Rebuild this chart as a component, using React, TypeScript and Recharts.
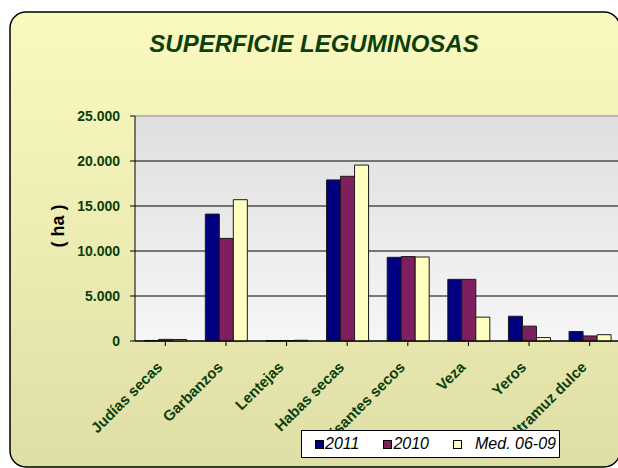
import React from "react";
import {Bar, BarChart, CartesianGrid, Legend, ReferenceLine, XAxis, YAxis} from "recharts";

const categories = [
  "Judías secas",
  "Garbanzos",
  "Lentejas",
  "Habas secas",
  "Guisantes secos",
  "Veza",
  "Yeros",
  "Altramuz dulce",
];
const serie2011 = [60, 14100, 50, 17900, 9300, 6850, 2750, 1050];
const serie2010 = [180, 11400, 50, 18300, 9380, 6850, 1650, 560];
const serieMedia = [170, 15700, 80, 19550, 9330, 2650, 380, 700];
const yTicks = [0, 5000, 10000, 15000, 20000, 25000];

const seriesInfo = [
  {key: "y2011", name: "2011", color: "#000080"},
  {key: "y2010", name: "2010", color: "#7f1f5f"},
  {key: "media", name: "Med. 06-09", color: "#ffffc0"},
];

const chartData = categories.map((name, i) => ({
  name,
  y2011: serie2011[i],
  y2010: serie2010[i],
  media: serieMedia[i],
}));

const green = "#0b3f0b";
const font = "'Liberation Sans', Arial, sans-serif";

const fmt = (v: number) => v.toLocaleString("de-DE");

const CatTick = (props: any) => {
  const {x, y, payload} = props;
  return (
    <g transform={`translate(${x - 2},${y + 20})`}>
      <text
        transform="rotate(-45)"
        textAnchor="end"
        fill={green}
        fontSize={15}
        fontWeight="bold"
        fontFamily={font}
      >
        {payload.value}
      </text>
    </g>
  );
};

const LegendBox = () => (
  <div
    style={{
      background: "#fff",
      border: "1px solid #000",
      display: "flex",
      alignItems: "center",
      height: 28,
      paddingLeft: 13,
      fontFamily: font,
      fontStyle: "italic",
      fontSize: 16,
      color: "#000",
      boxSizing: "border-box",
    }}
  >
    {seriesInfo.map((s, i) => (
      <span key={s.key} style={{display: "flex", alignItems: "center", marginRight: i < 2 ? 24 : 0}}>
        <span
          style={{
            display: "inline-block",
            width: 7,
            height: 7,
            background: s.color,
            border: "1px solid #000",
            marginRight: i === 2 ? 13 : 1,
          }}
        />
        {s.name}
      </span>
    ))}
  </div>
);

const App = () => {
  return (
    <div style={{position: "fixed", left: 0, top: 0, width: 618, height: 468, overflow: "hidden", background: "#fff"}}>
      <svg width={640} height={480} style={{position: "absolute", left: 0, top: 0}}>
        <defs>
          <linearGradient id="bgFrame" x1="0" y1="0" x2="0" y2="1">
            <stop offset="0%" stopColor="#fafac0" />
            <stop offset="100%" stopColor="#dedea6" />
          </linearGradient>
        </defs>
        <rect x={10} y={12} width={610} height={455} rx={16} fill="url(#bgFrame)" stroke="#000" strokeWidth={1.5} />
        <text
          x={314}
          y={52}
          textAnchor="middle"
          fill={green}
          fontSize={24}
          fontWeight="bold"
          fontStyle="italic"
          fontFamily={font}
        >
          SUPERFICIE LEGUMINOSAS
        </text>
        <text
          transform="translate(64,226) rotate(-90)"
          textAnchor="middle"
          fill="#000"
          fontSize={18}
          fontWeight="bold"
          fontFamily={font}
        >
          ( ha )
        </text>
      </svg>
      <div style={{position: "absolute", left: 0, top: 0}}>
        <BarChart
          width={630}
          height={468}
          data={chartData}
          margin={{top: 116, right: 10, bottom: 0, left: 0}}
          barCategoryGap="16%"
          barGap={0}
        >
          <defs>
            <linearGradient id="plotBg" x1="0" y1="0" x2="0" y2="1">
              <stop offset="0%" stopColor="#dfdfdf" />
              <stop offset="100%" stopColor="#f6f6f6" />
            </linearGradient>
          </defs>
          <CartesianGrid
            vertical={false}
            stroke="#000"
            strokeWidth={1}
            fill="url(#plotBg)"
            fillOpacity={1}
          />
          <ReferenceLine y={25000} stroke="#b8b8b8" strokeWidth={2} />
          <XAxis
            dataKey="name"
            interval={0}
            height={127}
            tick={<CatTick />}
            tickLine={{stroke: "#000"}}
            tickSize={5}
            axisLine={{stroke: "#000"}}
            stroke="#000"
          />
          <YAxis
            width={135}
            domain={[0, 25000]}
            ticks={yTicks}
            tickFormatter={fmt}
            tick={{fill: green, fontSize: 14, fontWeight: "bold", fontFamily: font}}
            tickSize={5}
            tickMargin={10}
            axisLine={{stroke: "#000"}}
            tickLine={{stroke: "#000"}}
            stroke="#000"
          />
          {seriesInfo.map((s) => (
            <Bar
              key={s.key}
              dataKey={s.key}
              name={s.name}
              fill={s.color}
              stroke="#1a1a1a"
              strokeWidth={1}
              isAnimationActive={false}
            />
          ))}
          <Legend
            layout="horizontal"
            verticalAlign="middle"
            align="center"
            content={<LegendBox />}
            wrapperStyle={{left: 301, top: 430, width: 259}}
          />
        </BarChart>
      </div>
    </div>
  );
};

export default App;
